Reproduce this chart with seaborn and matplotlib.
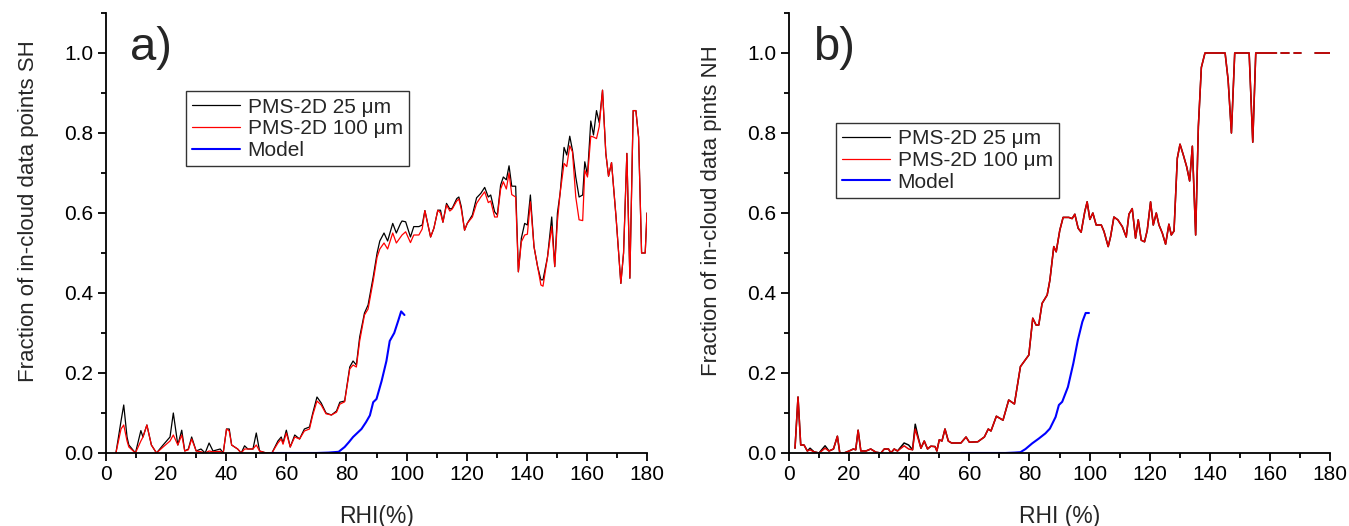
import numpy as np
import pandas as pd
import matplotlib
matplotlib.use("Agg")
import matplotlib.pyplot as plt
from matplotlib.ticker import MultipleLocator
from matplotlib.lines import Line2D
import seaborn as sns

# ---- panel a) southern hemisphere ----
sh_rhi = [3.3, 5.0, 5.9, 7.0, 7.6, 9.8, 11.6, 12.3, 13.6, 15.1, 16.8, 19.0, 21.3, 22.4, 23.9, 25.2,
          26.2, 27.4, 28.5, 30.0, 31.6, 33.0, 34.3, 35.6, 38.0, 39.0, 40.1, 41.0, 41.8, 43.8, 45.0,
          46.1, 47.2, 48.9, 50.0, 51.1, 53.3, 55.2, 57.2, 58.3, 58.9, 60.0, 61.3, 62.8, 64.4, 66.0,
          67.7, 68.8, 70.2, 71.6, 73.2, 75.0, 76.7, 77.8, 79.4, 81.1, 82.2, 83.3, 84.4, 86.0, 87.2,
          88.9, 90.2, 91.1, 92.5, 93.7, 95.4, 96.6, 98.0, 98.5, 99.7, 101.3, 102.4, 104.1, 105.2,
          106.1, 108.0, 109.1, 110.4, 111.3, 112.1, 113.3, 114.4, 115.2, 116.7, 117.4, 118.2, 119.3,
          120.2, 121.9, 123.3, 124.7, 126.0, 127.2, 128.0, 129.3, 130.2, 131.3, 132.2, 133.2, 134.1,
          135.0, 136.3, 137.2, 138.2, 139.3, 140.2, 141.2, 142.4, 143.6, 144.7, 145.4, 146.9, 148.3,
          149.3, 150.2, 151.1, 152.4, 153.3, 154.3, 155.2, 156.3, 157.4, 158.6, 159.3, 160.2, 161.3,
          162.2, 163.2, 164.1, 165.2, 166.3, 167.2, 168.2, 169.7, 171.3, 172.2, 173.3, 174.3, 175.4,
          176.3, 177.2, 178.2, 179.4, 180.0]
sh_25 = [0.0, 0.08, 0.12, 0.04, 0.02, 0.0, 0.056, 0.04, 0.07, 0.02, 0.0, 0.02, 0.04, 0.10, 0.02, 0.057,
         0.005, 0.01, 0.04, 0.005, 0.01, 0.0, 0.025, 0.005, 0.01, 0.0, 0.06, 0.06, 0.02, 0.01, 0.0,
         0.018, 0.01, 0.01, 0.05, 0.005, 0.0, 0.0, 0.03, 0.04, 0.025, 0.057, 0.015, 0.045, 0.035, 0.06,
         0.065, 0.10, 0.14, 0.125, 0.10, 0.095, 0.105, 0.127, 0.13, 0.215, 0.23, 0.22, 0.29, 0.35, 0.37,
         0.44, 0.50, 0.53, 0.55, 0.53, 0.574, 0.55, 0.574, 0.58, 0.578, 0.54, 0.566, 0.566, 0.57,
         0.606, 0.54, 0.562, 0.607, 0.607, 0.577, 0.624, 0.61, 0.612, 0.636, 0.64, 0.616, 0.557,
         0.574, 0.595, 0.638, 0.649, 0.664, 0.64, 0.645, 0.603, 0.595, 0.67, 0.69, 0.683, 0.718,
         0.667, 0.667, 0.453, 0.537, 0.574, 0.57, 0.645, 0.516, 0.466, 0.433, 0.433, 0.49, 0.59,
         0.466, 0.60, 0.65, 0.764, 0.745, 0.792, 0.757, 0.69, 0.64, 0.645, 0.728, 0.695, 0.83,
         0.795, 0.856, 0.826, 0.907, 0.749, 0.692, 0.726, 0.59, 0.424, 0.50, 0.749, 0.437, 0.856,
         0.856, 0.79, 0.50, 0.50, 0.60]
sh_100 = [0.0, 0.06, 0.07, 0.03, 0.015, 0.0, 0.03, 0.04, 0.07, 0.02, 0.0, 0.015, 0.03, 0.045, 0.02, 0.045,
          0.005, 0.008, 0.035, 0.005, 0.003, 0.0, 0.005, 0.003, 0.004, 0.0, 0.06, 0.055, 0.02, 0.01, 0.0,
          0.01, 0.01, 0.01, 0.02, 0.005, 0.0, 0.0, 0.025, 0.035, 0.022, 0.05, 0.015, 0.04, 0.035, 0.055,
          0.06, 0.095, 0.13, 0.12, 0.098, 0.095, 0.102, 0.122, 0.128, 0.21, 0.22, 0.215, 0.28, 0.345, 0.36,
          0.43, 0.49, 0.51, 0.525, 0.51, 0.55, 0.525, 0.54, 0.545, 0.553, 0.526, 0.545, 0.545, 0.56,
          0.606, 0.54, 0.562, 0.607, 0.60, 0.577, 0.62, 0.605, 0.61, 0.63, 0.635, 0.61, 0.557,
          0.574, 0.59, 0.624, 0.64, 0.653, 0.626, 0.63, 0.59, 0.59, 0.66, 0.678, 0.66, 0.70,
          0.646, 0.64, 0.453, 0.528, 0.545, 0.547, 0.628, 0.516, 0.466, 0.42, 0.417, 0.49, 0.566,
          0.466, 0.58, 0.65, 0.724, 0.716, 0.768, 0.753, 0.64, 0.583, 0.581, 0.707, 0.69, 0.792,
          0.79, 0.786, 0.816, 0.907, 0.749, 0.692, 0.726, 0.59, 0.424, 0.50, 0.749, 0.437, 0.856,
          0.856, 0.79, 0.50, 0.50, 0.60]
sh_model_rhi = [55, 60, 65, 70, 74, 77.4, 79.4, 80.8, 82.2, 85, 86.5, 87.8, 88.9, 90, 91.7, 93.3,
                94.4, 95.9, 97.2, 98.2, 99.3]
sh_model = [0, 0, 0, 0, 0.001, 0.003, 0.015, 0.027, 0.04, 0.06, 0.077, 0.094, 0.127, 0.135, 0.18,
            0.23, 0.28, 0.30, 0.33, 0.354, 0.345]

# ---- panel b) northern hemisphere ----
nh_rhi = [2, 3, 3.9, 5, 6.1, 7, 8.3, 10, 12, 13.3, 14.8, 16.1, 16.9, 18.3, 20, 21.4, 22.2, 23, 23.9,
          25.6, 27.2, 28.9, 30.6, 31.7, 33.1, 33.9, 35, 36.1, 38.3, 39.8, 41.1, 42, 42.8, 43.9, 45,
          46.1, 47.2, 48.6, 49.2, 50, 50.9, 51.9, 53, 54.1, 57.2, 58.9, 60, 62.8, 65, 66.3, 67.2, 69,
          71.2, 73.1, 75, 77, 79.8, 81.1, 82.2, 83.1, 84.2, 85.9, 86.8, 88.1, 88.9, 90.1, 91.2, 93.1,
          94.2, 95.1, 96.2, 97.2, 98.4, 99.2, 100.1, 101.1, 102.2, 103.9, 104.8, 106.2, 107, 108.1,
          109.4, 110.9, 112.2, 113.1, 114.2, 115.3, 116.2, 117.2, 118.3, 119.2, 120.3, 121.2, 122.2,
          123.1, 124.2, 125.3, 126.4, 127.2, 128.1, 129.2, 130.1, 131.2, 132.3, 133.3, 134.2, 135.3,
          136.2, 137.2, 138.4, 145.1, 146.1, 147.2, 148.3, 153.1, 154.3, 155.3, 162.2,
          163.7, 166.4, 167.9, 170.3, 175.1, 180]
nh_100 = [0.012, 0.14, 0.02, 0.02, 0.005, 0.008, 0.003, 0.0, 0.012, 0.005, 0.01, 0.042, 0.0, 0.0, 0.005,
          0.01, 0.008, 0.057, 0.005, 0.005, 0.01, 0.002, 0.0, 0.01, 0.01, 0.0, 0.01, 0.005, 0.018, 0.01,
          0.008, 0.06, 0.04, 0.012, 0.03, 0.01, 0.017, 0.016, 0.005, 0.033, 0.03, 0.06, 0.03, 0.025,
          0.025, 0.04, 0.027, 0.028, 0.04, 0.06, 0.055, 0.092, 0.082, 0.1325, 0.1225, 0.216, 0.245,
          0.337, 0.32, 0.32, 0.374, 0.395, 0.432, 0.516, 0.503, 0.557, 0.589, 0.589, 0.586, 0.597,
          0.562, 0.552, 0.603, 0.628, 0.584, 0.60, 0.57, 0.57, 0.554, 0.516, 0.541, 0.59, 0.583, 0.566,
          0.54, 0.597, 0.611, 0.537, 0.583, 0.532, 0.528, 0.557, 0.628, 0.57, 0.60, 0.57, 0.55, 0.522,
          0.572, 0.545, 0.555, 0.737, 0.772, 0.745, 0.716, 0.68, 0.767, 0.545, 0.816, 0.964, 1.0, 1.0,
          0.933, 0.80, 1.0, 1.0, 0.777, 1.0, 1.0, 1.0, 1.0, 1.0, 1.0, 1.0, 1.0]
nh_25 = [0.012, 0.14, 0.02, 0.02, 0.005, 0.012, 0.003, 0.0, 0.018, 0.005, 0.01, 0.042, 0.0, 0.0, 0.005,
         0.01, 0.008, 0.057, 0.005, 0.005, 0.01, 0.002, 0.0, 0.01, 0.01, 0.0, 0.01, 0.005, 0.025, 0.02,
         0.008, 0.072, 0.045, 0.012, 0.03, 0.01, 0.017, 0.016, 0.005, 0.033, 0.03, 0.06, 0.03, 0.025,
         0.025, 0.04, 0.027, 0.028, 0.04, 0.06, 0.055, 0.092, 0.082, 0.1325, 0.1225, 0.216, 0.245,
         0.337, 0.32, 0.32, 0.374, 0.395, 0.432, 0.516, 0.503, 0.557, 0.589, 0.589, 0.586, 0.597,
         0.562, 0.552, 0.603, 0.628, 0.584, 0.60, 0.57, 0.57, 0.554, 0.516, 0.541, 0.59, 0.583, 0.566,
         0.54, 0.597, 0.611, 0.537, 0.583, 0.532, 0.528, 0.557, 0.628, 0.57, 0.60, 0.57, 0.55, 0.522,
         0.572, 0.545, 0.555, 0.737, 0.772, 0.745, 0.716, 0.68, 0.767, 0.545, 0.816, 0.964, 1.0, 1.0,
         0.933, 0.80, 1.0, 1.0, 0.777, 1.0, 1.0, 1.0, 1.0, 1.0, 1.0, 1.0, 1.0]
# line segments (the 1.0 plateau is broken by empty bins)
nh_seg = [0] * 119 + [1, 1, 2, 2, 3, 3]
nh_model_rhi = [57.2, 65, 72, 75, 77, 78.7, 80.9, 83.1, 85.3, 86.8, 88.7, 89.8, 90.9, 92.8, 94.6,
                96.1, 97.6, 98.7, 99.8]
nh_model = [0, 0, 0, 0.001, 0.002, 0.01, 0.024, 0.036, 0.049, 0.061, 0.09, 0.12, 0.128, 0.165,
            0.224, 0.282, 0.328, 0.35, 0.35]

labels = ["PMS-2D 25 \u03bcm", "PMS-2D 100 \u03bcm", "Model"]

sns.set_style("ticks")
plt.rcParams["font.family"] = ["Liberation Sans", "DejaVu Sans"]

fig = plt.figure(figsize=(13.49, 5.26), dpi=100)
ax_a = fig.add_axes([106 / 1349, 1 - 453 / 526, 541 / 1349, 440 / 526])
ax_b = fig.add_axes([789 / 1349, 1 - 453 / 526, 541 / 1349, 440 / 526])

sh = pd.DataFrame({"rhi": sh_rhi, "f25": sh_25, "f100": sh_100})
shm = pd.DataFrame({"rhi": sh_model_rhi, "f": sh_model})
nh = pd.DataFrame({"rhi": nh_rhi, "f25": nh_25, "f100": nh_100, "seg": nh_seg})
nhm = pd.DataFrame({"rhi": nh_model_rhi, "f": nh_model})

sns.lineplot(data=sh, x="rhi", y="f25", color="black", lw=0.9, ax=ax_a, estimator=None, sort=False)
sns.lineplot(data=sh, x="rhi", y="f100", color="#ff0000", lw=0.9, ax=ax_a, estimator=None, sort=False)
sns.lineplot(data=shm, x="rhi", y="f", color="#0000ff", lw=1.5, ax=ax_a, estimator=None, sort=False)

sns.lineplot(data=nh, x="rhi", y="f25", units="seg", color="black", lw=1.1, ax=ax_b, estimator=None, sort=False)
sns.lineplot(data=nh, x="rhi", y="f100", units="seg", color="#e00000", lw=1.1, ax=ax_b, estimator=None, sort=False)
sns.lineplot(data=nhm, x="rhi", y="f", color="#0000ff", lw=1.5, ax=ax_b, estimator=None, sort=False)

handles = [Line2D([], [], color="black", lw=0.9),
           Line2D([], [], color="#ff0000", lw=0.9),
           Line2D([], [], color="#0000ff", lw=1.5)]

for ax, letter, ylab, xlab, leg_xy in [
        (ax_a, "a)", "Fraction of in-cloud data points SH", "RHI(%)", (0.148, 0.822)),
        (ax_b, "b)", "Fraction of in-cloud data pints NH", "RHI (%)", (0.087, 0.750))]:
    ax.set_xlim(0, 180)
    ax.set_ylim(0, 1.1)
    ax.xaxis.set_major_locator(MultipleLocator(20))
    ax.xaxis.set_minor_locator(MultipleLocator(10))
    ax.set_yticks(np.arange(0, 1.01, 0.2))
    ax.yaxis.set_minor_locator(MultipleLocator(0.1))
    ax.yaxis.set_major_formatter(plt.FormatStrFormatter("%.1f"))
    ax.tick_params(which="major", direction="out", length=6, width=1.3, labelsize=15, pad=3,
                   colors="black")
    ax.tick_params(which="minor", direction="out", length=3.5, width=1.3, colors="black")
    sns.despine(ax=ax)
    for s in ["left", "bottom"]:
        ax.spines[s].set_linewidth(1.3)
        ax.spines[s].set_color("black")
    ax.set_xlabel(xlab, fontsize=16.5, labelpad=15)
    ax.set_ylabel(ylab, fontsize=16, labelpad=18)
    ax.yaxis.label.set_y(0.55)
    ax.text(0.045, 0.97, letter, transform=ax.transAxes, fontsize=34, va="top", ha="left")
    leg = ax.legend(handles, labels, loc="upper left", bbox_to_anchor=leg_xy, fontsize=15,
                    frameon=True, fancybox=False, framealpha=1, edgecolor="#333333",
                    handlelength=2.3, borderpad=0.3, labelspacing=0.13, handletextpad=0.35,
                    borderaxespad=0)
    leg.get_frame().set_linewidth(1.0)

fig.savefig("out.png", dpi=100)
